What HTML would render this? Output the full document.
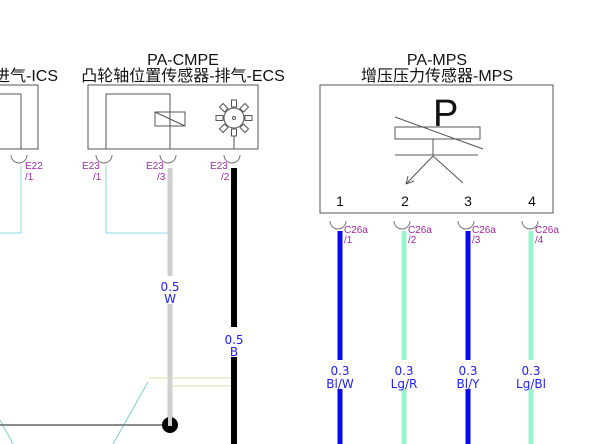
<!DOCTYPE html>
<html><head><meta charset="utf-8"><style>
body{margin:0;background:#fff}
svg{display:block}
text{font-family:"Liberation Sans","Noto Sans CJK SC",sans-serif}
.p{fill:#9b2aa0;font-size:10px}
.w{fill:#2020ff;font-size:12px;font-family:"DejaVu Sans","Liberation Sans",sans-serif}
</style></head><body>
<svg width="603" height="444" viewBox="0 0 603 444" xmlns="http://www.w3.org/2000/svg">
<g font-size="16" fill="#111">
<text x="-6" y="81">进气-ICS</text>
<text x="183" y="65" text-anchor="middle">PA-CMPE</text>
<text x="183" y="81" text-anchor="middle">凸轮轴位置传感器-排气-ECS</text>
<text x="437" y="65" text-anchor="middle">PA-MPS</text>
<text x="437" y="81" text-anchor="middle">增压压力传感器-MPS</text>
</g>
<g stroke="#555" fill="none" stroke-width="1">
<path d="M0 85H38V149H0"/><path d="M0 94H21V149"/>
<rect x="88" y="85" width="170" height="64"/>
<path d="M106 149V94H170V149"/>
<rect x="155" y="112" width="30" height="14"/><path d="M155 112L185 126"/>
<circle cx="234" cy="118" r="10"/><circle cx="234" cy="118" r="1.5"/>
<path d="M234 128V149"/>
<rect x="320" y="85" width="233" height="128"/>
<rect x="395" y="127" width="85" height="12"/>
<path d="M395 117L483 149M433 139V155M395 155H478M433 156L406 184M433 156L463 183M406 184L408 176M406 184L414 181"/>
<g stroke="#777">
<path d="M11 155a8 8 0 0 0 16 0M96 155a8 8 0 0 0 16 0M160 155a8 8 0 0 0 16 0M224 155a8 8 0 0 0 16 0"/>
<path d="M330 221a8 8 0 0 0 16 0M394 221a8 8 0 0 0 16 0M458 221a8 8 0 0 0 16 0M522 221a8 8 0 0 0 16 0"/>
</g>
</g>
<g fill="#fff" stroke="#555">
<g transform="translate(234 118)">
<rect x="-2.5" y="-18" width="5" height="7"/><rect x="-2.5" y="11" width="5" height="7"/>
<rect x="-18" y="-2.5" width="7" height="5"/><rect x="11" y="-2.5" width="7" height="5"/>
<rect x="-2.5" y="-18" width="5" height="7" transform="rotate(45)"/><rect x="-2.5" y="-18" width="5" height="7" transform="rotate(-45)"/>
<rect x="-2.5" y="-18" width="5" height="7" transform="rotate(135)"/><rect x="-2.5" y="-18" width="5" height="7" transform="rotate(-135)"/>
</g></g>
<text x="433" y="126" font-size="38" fill="#111">P</text>
<g font-size="14" fill="#111" text-anchor="middle">
<text x="340" y="206">1</text><text x="405" y="206">2</text><text x="468" y="206">3</text><text x="532" y="206">4</text>
</g>
<text class="p" x="25" y="169">E22</text><text class="p" x="25" y="180">/1</text>
<text class="p" x="82" y="169">E23</text><text class="p" x="93" y="180">/1</text>
<text class="p" x="146" y="169">E23</text><text class="p" x="157" y="180">/3</text>
<text class="p" x="210" y="169">E23</text><text class="p" x="221" y="180">/2</text>
<text class="p" x="344" y="233">C26a</text><text class="p" x="344" y="243">/1</text>
<text class="p" x="408" y="233">C26a</text><text class="p" x="408" y="243">/2</text>
<text class="p" x="472" y="233">C26a</text><text class="p" x="472" y="243">/3</text>
<text class="p" x="535" y="233">C26a</text><text class="p" x="535" y="243">/4</text>
<g fill="none">
<path d="M21 166V233H0M106 166V233H170" stroke="#8fd8d8" stroke-width="1"/>
<path d="M0 420L13 444M148 382L113 444" stroke="#7fd0d0" stroke-width="1"/>
<path d="M148 378H237M170 386H237" stroke="#e6e0a8" stroke-width="1"/>
<path d="M0 425H165" stroke="#666" stroke-width="1.5"/>
<path d="M170 168V276M170 304V423" stroke="#cfcfcf" stroke-width="5"/>
<path d="M234 168V327M234 357V444" stroke="#000" stroke-width="6"/>
<path d="M340 231V360M340 389V444M468 231V360M468 389V444" stroke="#0a0af0" stroke-width="5"/>
<path d="M404 231V360M404 389V444M531 231V360M531 389V444" stroke="#99f5cc" stroke-width="5"/>
</g>
<circle cx="170" cy="425" r="8" fill="#000"/>
<path d="M170 416v10" stroke="#cfcfcf" stroke-width="4"/>
<g class="w" text-anchor="middle">
<text class="w" x="170" y="291">0.5</text><text class="w" x="170" y="303">W</text>
<text class="w" x="234" y="344">0.5</text><text class="w" x="234" y="356">B</text>
<text class="w" x="340" y="375">0.3</text><text class="w" x="340" y="388">Bl/W</text>
<text class="w" x="404" y="375">0.3</text><text class="w" x="404" y="388">Lg/R</text>
<text class="w" x="468" y="375">0.3</text><text class="w" x="468" y="388">Bl/Y</text>
<text class="w" x="531" y="375">0.3</text><text class="w" x="531" y="388">Lg/Bl</text>
</g>
</svg>
</body></html>
